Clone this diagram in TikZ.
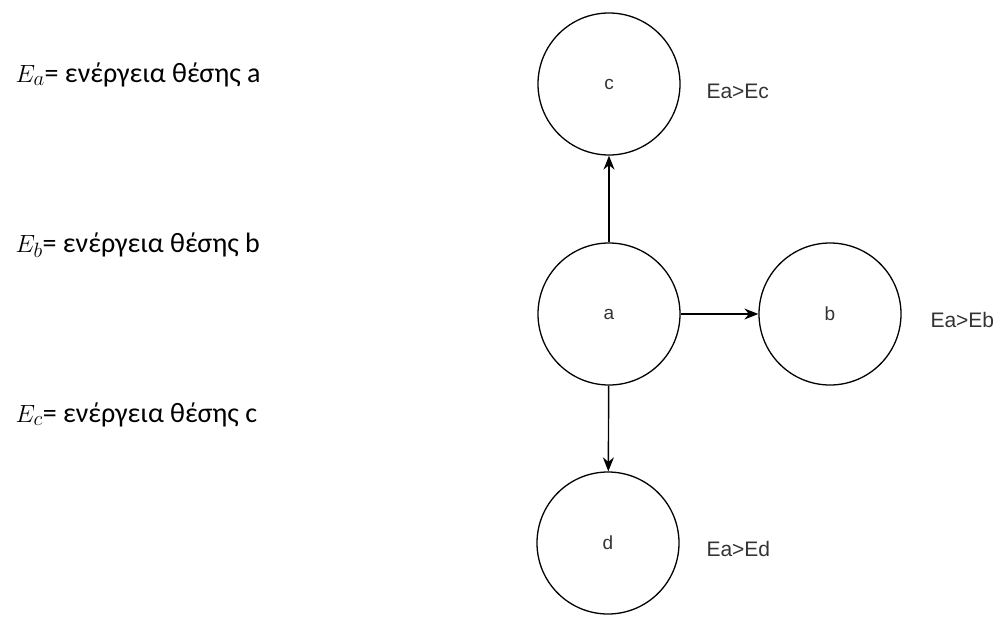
\documentclass[tikz,border=0pt]{standalone}
\usepackage{fontspec}
\setmainfont{Carlito}
\newfontfamily\labelfont{Liberation Sans}
\usetikzlibrary{arrows.meta, positioning}

\begin{document}
\begin{tikzpicture}[x=1pt, y=-1pt,
  state/.style={circle, draw, line width=1.3pt, minimum size=142pt, inner sep=0pt,
    text=black!80, font=\labelfont\fontsize{19}{22}\selectfont},
  cond/.style={anchor=base west, text=black!80, font=\labelfont\fontsize{21}{24}\selectfont},
  energy/.style={anchor=base west, font=\fontsize{28}{32}\selectfont},
  trans/.style={-{Stealth[length=14pt, width=11pt]}, line width=1.4pt}]
\useasboundingbox (0,0) rectangle (1001,618);

% definitions on the left
\node[energy] (ea) at (12,82)  {$E_a$= ενέργεια θέσης a};
\node[energy] (eb) at (12,252) {$E_b$= ενέργεια θέσης b};
\node[energy] (ec) at (12,422) {$E_c$= ενέργεια θέσης c};

% positions
\node[state] (a) at (609,314) {a};
\node[state] (b) at (830,314) {b};
\node[state] (c) at (609,84)  {c};
\node[state] (d) at (608,543) {d};

% moves out of a
\draw[trans] (a) -- (c);
\draw[trans] (a) -- (b);
\draw[trans] (a) -- (d);

% energy conditions
\node[cond] (cc) at (703,98)  {Ea>Ec};
\node[cond] (cb) at (927,327) {Ea>Eb};
\node[cond] (cd) at (703,556) {Ea>Ed};
\end{tikzpicture}
\end{document}
